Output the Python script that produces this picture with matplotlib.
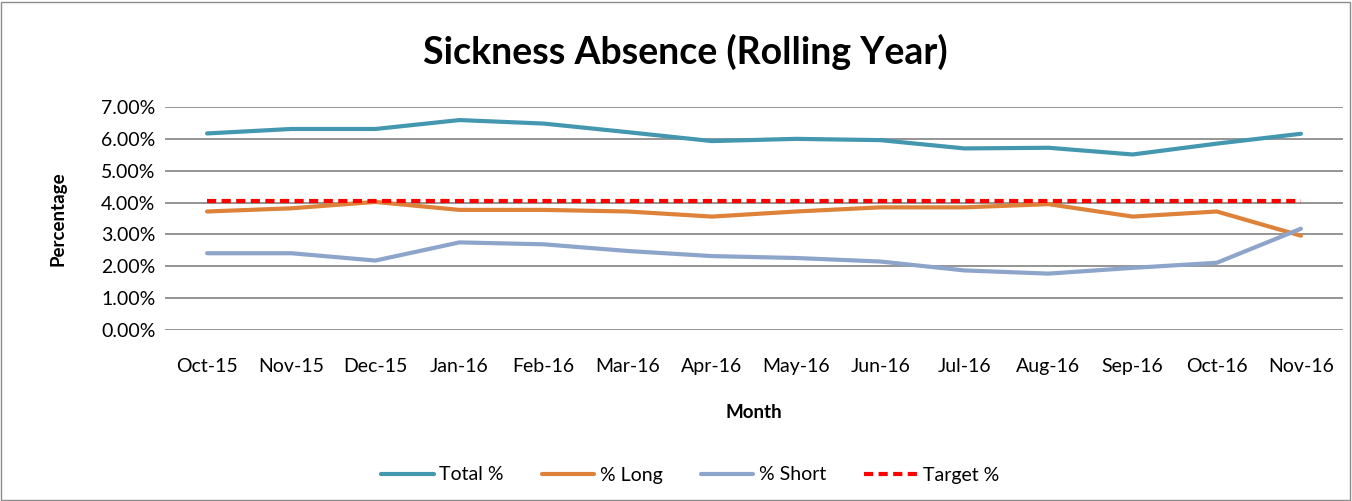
import matplotlib
matplotlib.use("Agg")
import matplotlib.pyplot as plt
from matplotlib.ticker import PercentFormatter
from matplotlib.patches import Rectangle

plt.rcParams['font.family'] = ['Lato', 'DejaVu Sans']

months = ["Oct-15", "Nov-15", "Dec-15", "Jan-16", "Feb-16", "Mar-16", "Apr-16",
          "May-16", "Jun-16", "Jul-16", "Aug-16", "Sep-16", "Oct-16", "Nov-16"]
total_pct = [6.17, 6.31, 6.31, 6.59, 6.48, 6.21, 5.93, 6.00, 5.96, 5.70, 5.72, 5.51, 5.85, 6.16]
long_pct = [3.72, 3.82, 4.02, 3.77, 3.77, 3.72, 3.56, 3.72, 3.85, 3.85, 3.95, 3.56, 3.72, 2.96]
short_pct = [2.41, 2.41, 2.18, 2.75, 2.69, 2.48, 2.32, 2.26, 2.15, 1.87, 1.77, 1.95, 2.11, 3.18]
target_pct = [4.05] * 14

fig = plt.figure(figsize=(13.52, 5.01), dpi=100)
ax = fig.add_axes([165/1352, 1 - 330/501, 1178/1352, 223/501])

x = list(range(len(months)))
ax.plot(x, total_pct, color="#4397AE", lw=3, label="Total %", solid_capstyle="round")
ax.plot(x, long_pct, color="#DD8238", lw=3, label="% Long", solid_capstyle="round")
ax.plot(x, short_pct, color="#8DA4CB", lw=3, label="% Short", solid_capstyle="round")
ax.plot(x, target_pct, color="#FF0000", lw=3, ls=(0, (2.2, 1.3)), label="Target %")

ax.set_xlim(-0.5, len(months) - 0.5)
ax.set_ylim(0, 7)
ax.set_yticks(range(8))
ax.yaxis.set_major_formatter(PercentFormatter(decimals=2))
ax.set_xticks(x)
ax.set_xticklabels(months)
ax.grid(axis="y", color="#8c8c8c", lw=1.3)
ax.set_axisbelow(True)
for s in ax.spines.values():
    s.set_visible(False)
ax.tick_params(length=0, labelsize=14)
ax.tick_params(axis="x", pad=20)
ax.tick_params(axis="y", pad=7)

ax.set_ylabel("Percentage", fontsize=13.5, fontweight="bold", labelpad=25)
ax.set_xlabel("Month", fontsize=13.5, fontweight="bold", labelpad=21)
fig.text(0.507, 1 - 52/501, "Sickness Absence (Rolling Year)", ha="center", va="center",
         fontsize=27, fontweight="bold")

ax.legend(loc="center", bbox_to_anchor=((690 - 165) / 1178, -(475 - 330) / 223),
          ncol=4, frameon=False, fontsize=14, handlelength=2.7, columnspacing=1.95,
          handletextpad=0.3)

fig.patches.append(Rectangle((1/1352, 1/501), 1 - 3/1352, 1 - 3/501, transform=fig.transFigure,
                             fill=False, edgecolor="#8c8c8c", lw=1))

fig.savefig("out.png", dpi=100)
